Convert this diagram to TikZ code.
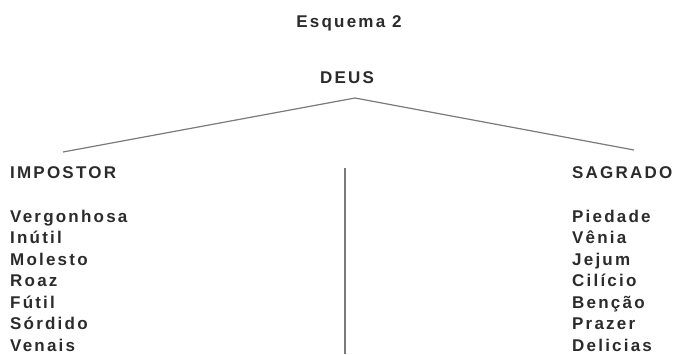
\documentclass[tikz,border=0pt]{standalone}
\usepackage{fontspec}
\usepackage{xcolor}
\usepackage{tikz}
\newfontfamily\esqfont[LetterSpace=13]{Liberation Sans}
\definecolor{txtgray}{HTML}{2B2B2B}
\definecolor{linegray}{HTML}{7A7A7A}
\tikzset{
  lbl/.style={inner sep=0pt,text=txtgray,font=\esqfont\fontsize{17}{19}\selectfont\bfseries},
  ramo/.style={draw=linegray,line width=1.2pt}
}

\begin{document}
\begin{tikzpicture}[x=1pt,y=-1pt]
\useasboundingbox (0,0) rectangle (677,354);
\node[lbl,anchor=base] (titulo) at (349,27) {Esquema 2};
\node[lbl,anchor=base] (deus) at (347,83) {DEUS};
\node[lbl,anchor=base west] (impostor) at (10,178) {IMPOSTOR};
\node[lbl,anchor=base west] (sagrado) at (572,178) {SAGRADO};
\coordinate (topo) at (355,98);
\coordinate (esq) at (63,152);
\coordinate (dir) at (634,150);
\coordinate (meio) at (345,168);
\coordinate (base) at (345,354);
\draw[ramo] (esq) -- (topo) -- (dir);
\draw[ramo] (meio) -- (base);
\foreach \w [count=\i from 0] in {Vergonhosa,Inútil,Molesto,Roaz,Fútil,Sórdido,Venais}
  \node[lbl,anchor=base west] (imp\i) at (10,222+21.5*\i) {\w};
\foreach \w [count=\i from 0] in {Piedade,Vênia,Jejum,Cilício,Benção,Prazer,Delicias}
  \node[lbl,anchor=base west] (sag\i) at (572,222+21.5*\i) {\w};
\end{tikzpicture}
\end{document}
